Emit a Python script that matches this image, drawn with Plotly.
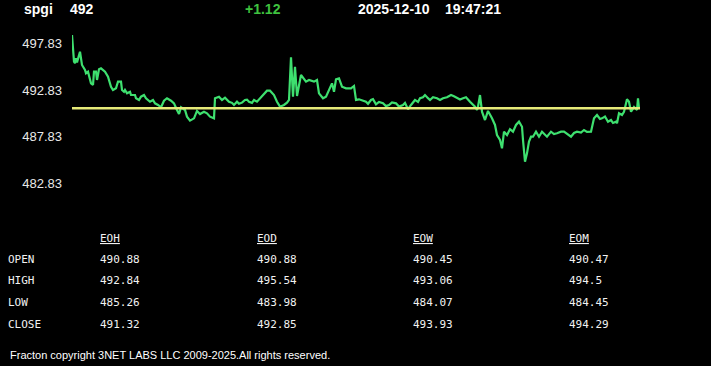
import plotly.graph_objects as go

# ---------------- data ----------------
symbol = "spgi"
last_price = "492"
change = "+1.12"
date_str = "2025-12-10"
time_str = "19:47:21"
prev_close = 490.88

# time index (session ticks) and price
t = [0, 2, 3, 4, 5, 8, 9, 10, 13, 14, 16, 18, 19, 21, 22, 24, 25, 27, 29, 33,
     36, 39, 41, 44, 46, 49, 50, 52, 53, 55, 58, 59, 63, 64, 67, 69, 72, 74, 78, 81,
     83, 86, 89, 92, 95, 99, 102, 105, 107, 109, 113, 115, 118, 122, 125, 128, 132, 135, 138, 142,
     143, 147, 150, 153, 157, 160, 162, 165, 167, 170, 173, 175, 177, 180, 182, 185, 188,
     192, 195, 198, 202, 205, 208, 212,
     215, 217, 219, 221, 223, 225, 229, 234, 237, 242, 245, 247, 251, 254, 257, 260, 262, 264, 267, 270,
     274, 279, 282, 284, 287, 291, 294, 296, 299, 301, 304, 307, 311, 314, 317, 320, 324, 327, 331, 333,
     336, 339, 343, 346, 348, 351, 353, 356, 358, 361, 365, 368, 371, 375, 379, 382, 385, 388, 391, 394,
     398, 403, 405, 406, 408, 410, 413, 416, 420, 423, 425, 428, 430, 432, 435, 438,
     441, 444, 447, 450, 451, 453, 455, 457, 459, 461, 464, 467, 470, 475, 479, 482, 485, 489, 492, 495,
     499, 502, 505, 509, 512, 515, 519, 522, 525, 528, 530, 533, 536, 539, 541, 544, 545, 547, 550, 552,
     555, 557, 559, 562, 565, 566, 567]
price = [498.72, 495.86, 495.69, 496.22, 495.79, 496.93, 496.22, 495.51, 494.97, 494.62, 494.79, 493.72, 493.54, 493.36, 494.79, 494.79, 493.90, 495.04, 495.15, 494.79,
         494.25, 493.18, 492.83, 493.01, 493.72, 493.72, 492.83, 492.64, 492.83, 492.47, 492.64, 492.29, 492.29, 491.94, 491.76, 492.11, 492.29, 491.94, 491.57, 491.76,
         491.40, 491.22, 490.97, 491.68, 491.94, 491.68, 491.40, 490.68, 490.25, 490.97, 490.68, 489.97, 489.54, 489.79, 490.58, 490.25, 490.50, 490.33, 489.97, 489.79,
         491.94, 492.11, 491.76, 492.00, 491.57, 491.45, 491.22, 491.57, 491.35, 491.47, 491.76, 491.80, 491.57, 491.45, 491.76, 491.57, 491.94,
         492.47, 492.75, 492.75, 492.29, 491.57, 491.04, 491.22,
         491.47, 491.76, 496.33, 492.11, 495.32, 492.18, 494.43, 493.72, 493.90, 493.72, 493.90, 492.47, 491.94, 492.11, 492.83, 493.54, 492.64, 493.97, 494.08, 493.18,
         493.01, 493.01, 493.26, 491.76, 491.83, 491.65, 491.57, 491.35, 491.76, 491.85, 491.29, 491.55, 491.40, 491.10, 491.22, 491.50, 491.40, 491.05, 491.22, 491.45,
         490.76, 491.22, 491.76, 491.55, 491.94, 492.05, 492.29, 491.95, 491.76, 492.05, 491.94, 491.75, 491.94, 492.05, 492.29, 492.15, 491.94, 491.80, 491.94, 492.05,
         491.57, 491.04, 490.68, 491.04, 492.29, 490.50, 489.61, 490.58, 489.79, 489.08, 488.00, 487.47, 486.58, 488.36, 488.00, 488.62,
         488.36, 489.08, 489.43, 488.89, 487.47, 485.14, 486.04, 487.29, 487.82, 487.82, 488.36, 487.82, 488.36, 487.82, 488.36, 488.11, 488.19, 488.36, 488.36, 488.11,
         487.82, 488.22, 488.36, 488.27, 488.54, 488.33, 488.36, 489.79, 490.15, 489.72, 489.79, 489.99, 489.43, 489.61, 489.29, 489.43, 489.26, 490.33, 490.15, 490.50,
         491.83, 491.57, 490.50, 491.00, 490.68, 491.92, 490.84]

y_ticks = [497.83, 492.83, 487.83, 482.83]
y_range = [481.576, 499.255]
x_range = [0, 568]

table_cols = ["EOH", "EOD", "EOW", "EOM"]
table_rows = ["OPEN", "HIGH", "LOW", "CLOSE"]
open_vals = ["490.88", "490.88", "490.45", "490.47"]
high_vals = ["492.84", "495.54", "493.06", "494.5"]
low_vals = ["485.26", "483.98", "484.07", "484.45"]
close_vals = ["491.32", "492.85", "493.93", "494.29"]
footer = "Fracton copyright 3NET LABS LLC 2009-2025.All rights reserved."

# ---------------- layout helpers ----------------
W, H = 711, 366
L, R, T, B = 72, 71, 30, 171
PW, PH = W - L - R, H - T - B


def px(x):
    return (x - L) / PW


def py(y):
    return (H - B - y) / PH


fig = go.Figure()
fig.add_trace(go.Scatter(x=t, y=price, mode="lines",
                         line=dict(color="#3ee06f", width=2.2), hoverinfo="skip",
                         showlegend=False))
fig.add_hline(y=prev_close, line=dict(color="#e6ea78", width=2.5))

ann = []
hfont = dict(family="Liberation Sans, Arial", size=14, color="#ffffff")
for txt, x, col in [(symbol, 23, "#ffffff"), (last_price, 69, "#ffffff"),
                    (change, 244, "#3fc23f"), (date_str, 357, "#ffffff"),
                    (time_str, 444, "#ffffff")]:
    ann.append(dict(text="<b>%s</b>" % txt, x=px(x - 1), y=py(9), xref="paper", yref="paper",
                    xanchor="left", yanchor="middle", showarrow=False,
                    font=dict(hfont, color=col)))

mfont = dict(family="DejaVu Sans Mono, monospace", size=11, color="#f2f2f2")
col_x = [99, 255.5, 411.5, 567.5]
row_y = [259.5, 280.5, 302.5, 324.5]
for c, x in zip(table_cols, col_x):
    ann.append(dict(text="<u>%s</u>" % c, x=px(x - 1), y=py(238.5), xref="paper", yref="paper",
                    xanchor="left", yanchor="middle", showarrow=False, font=mfont))
for r, y in zip(table_rows, row_y):
    ann.append(dict(text=r, x=px(6), y=py(y), xref="paper", yref="paper",
                    xanchor="left", yanchor="middle", showarrow=False, font=mfont))
for vals, y in zip([open_vals, high_vals, low_vals, close_vals], row_y):
    for v, x in zip(vals, col_x):
        ann.append(dict(text=v, x=px(x - 1), y=py(y), xref="paper", yref="paper",
                        xanchor="left", yanchor="middle", showarrow=False, font=mfont))

ann.append(dict(text=footer, x=px(8), y=py(355), xref="paper", yref="paper",
                xanchor="left", yanchor="middle", showarrow=False,
                font=dict(family="Liberation Sans, Arial", size=11, color="#ffffff")))

fig.update_layout(
    width=W, height=H,
    margin=dict(l=L, r=R, t=T, b=B, pad=0),
    paper_bgcolor="#000000", plot_bgcolor="#000000",
    showlegend=False,
    xaxis=dict(range=x_range, visible=False, fixedrange=True),
    yaxis=dict(range=y_range, tickvals=y_ticks, ticktext=["%.2f" % v for v in y_ticks],
               showgrid=False, zeroline=False, showline=False, ticks="",
               ticklabelstandoff=9,
               tickfont=dict(family="Liberation Sans, Arial", size=13, color="#e8e8e8"),
               fixedrange=True),
    annotations=ann,
)

fig.write_html("out.html", config={"displayModeBar": False})
